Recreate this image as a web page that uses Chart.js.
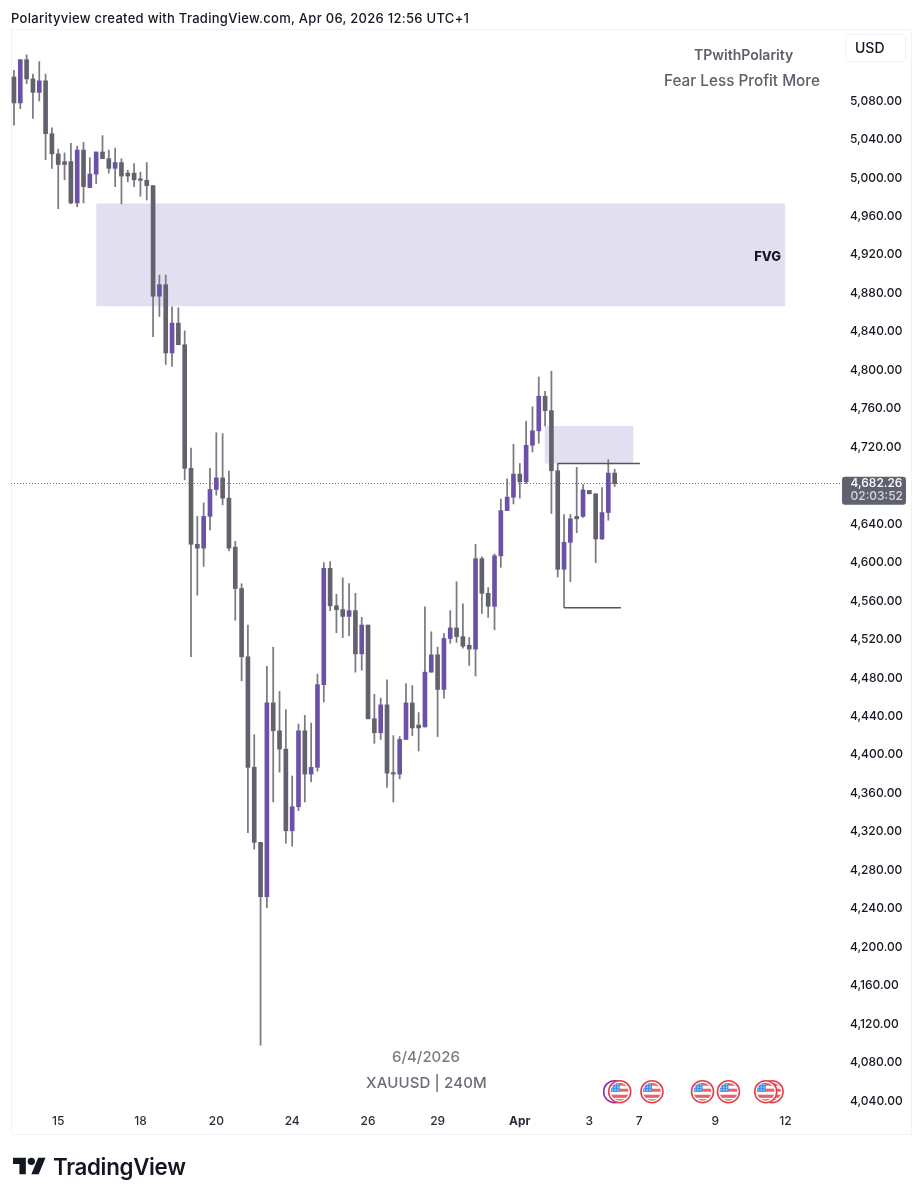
<!DOCTYPE html>
<html><head><meta charset="utf-8">
<script src="https://cdn.jsdelivr.net/npm/chart.js@4"></script>
<style>
html,body{margin:0;padding:0;background:#fff;width:922px;height:1200px;overflow:hidden;font-family:Inter,sans-serif}
#c{position:absolute;left:0;top:0}
.t{position:absolute;white-space:nowrap;line-height:1}
#frame{position:absolute;left:11px;top:29px;width:899px;height:1104px;border:1px solid #f2f3f6;box-sizing:content-box}
#usd{position:absolute;left:845px;top:34px;width:61px;height:28px;border:1px solid #f0f1f4;border-radius:5px;box-sizing:border-box}
</style></head><body>
<div id="frame"></div>
<canvas id="c" width="922" height="1200"></canvas>
<div class="t" style="left:11px;top:12px;font-size:13px;font-weight:500;color:#131722;letter-spacing:.285px">Polarityview created with TradingView.com, Apr 06, 2026 12:56 UTC+1</div>
<div class="t" style="left:694px;top:48px;font-size:14px;font-weight:600;color:#5d606b">TPwithPolarity</div>
<div class="t" style="left:664px;top:72.5px;font-size:15.3px;font-weight:500;color:#5d606b">Fear Less Profit More</div>
<div id="usd"></div>
<div class="t" style="left:855px;top:41px;font-size:14px;font-weight:500;color:#131722">USD</div>
<div class="t" style="left:392px;top:1049px;font-size:15px;font-weight:500;color:#7a7d87">6/4/2026</div>
<div class="t" style="left:366px;top:1075px;font-size:15px;font-weight:500;color:#6b6e78;letter-spacing:.15px">XAUUSD | 240M</div>
<svg style="position:absolute;left:13px;top:1154px" width="33" height="25.7" viewBox="0 0 36 28"><path fill="#131722" d="M14 22H7V11H0V4h14v18zM28 22h-8l7.5-18h8L28 22z"/><circle fill="#131722" cx="20" cy="8" r="4"/></svg>
<div class="t" style="left:53px;top:1156px;font-size:22.3px;font-weight:600;color:#131722;letter-spacing:-.3px">TradingView</div>
<script>
const opens=[5105,5078,5123,5103,5089,5101,5046,5025,5017,5017,4974,5029,4990,5004,5027,5020,5010,5016,5005,5005,4998.5,4997.5,4992,4877,4889,4818,4849,4826.5,4698,4619,4615,4648,4676,4688,4667,4616,4573,4502,4387,4309,4252.5,4454,4425,4406,4321,4346,4425,4380,4387,4473,4594,4555,4551,4544,4550,4505,4535,4437.5,4423,4452,4381,4380,4416,4454,4431,4429,4486,4504,4468,4521,4532,4523,4514,4510,4604,4568,4554.5,4607,4654,4668,4692,4684,4722,4737,4773,4758,4695.5,4593,4621,4648,4648,4675,4671.5,4624.5,4652,4693];
const highs=[5112,5123,5128,5108,5121,5108,5052,5030,5026,5036,5033,5037,5021,5027,5044,5029,5031,5020,5008,5015,5006,5016,4992,4899,4899,4866,4865,4841,4719,4648,4662,4698,4735,4734,4695,4622,4578,4535,4421,4309,4492,4512,4466,4447,4378,4432,4441,4433,4484,4600,4601,4567,4584,4578,4568,4543,4535,4463,4459,4478,4420,4419,4474,4472,4444,4554,4528,4512,4526,4550,4580,4557,4522,4619,4606,4574,4609,4666,4687,4723,4703,4747,4762,4793,4778,4799,4703,4650,4650,4699,4681,4675,4671.5,4678,4707,4697];
const lows=[5055,5072,5098,5062,5080,5019,5010,4968,4998,4973,4970,4974,4990,4994,5020,5005,4991,4973,4996,4991,4981,4977,4835,4856,4806,4804,4826.5,4686,4502,4566,4596,4634,4670,4660,4612,4540,4477,4319,4302,4098,4241,4351,4382,4308,4305,4342,4351,4372,4383,4455,4550,4527,4522,4524,4486,4488,4437.5,4412,4416,4366,4351,4375,4416,4420,4404,4429,4486,4419,4459,4516,4517,4511,4493,4482,4547,4543,4530,4595,4654,4661,4667,4682,4715,4724,4742,4651,4585,4553,4580,4631,4647,4671.5,4600,4624,4644,4679];
const closes=[5078,5123,5103,5089,5101,5046,5025,5014,5014,4974,5029,4991,5004,5027,5020,5010,5016,5002,5002,4998,4997.5,4992,4877,4889,4818,4849,4826.5,4698,4619,4615,4648,4676,4688,4667,4615,4573,4502,4387,4309,4252.5,4454,4425,4406,4321,4346,4425,4380,4387,4473,4594,4555,4551,4544,4550,4505,4535,4437.5,4423,4452,4381,4380,4416,4454,4428,4428,4486,4504,4468,4521,4532,4523,4513,4510,4604,4568,4554.5,4607,4654,4668,4692,4684,4722,4737,4773,4758,4695.5,4593,4621,4645.5,4645.5,4675.5,4671.5,4624.5,4652,4693,4682];
const barIndex=[0,1,2,3,4,5,6,7,8,9,10,11,12,13,14,15,16,17,18,19,20,21,22,23,24,25,26,27,28,29,30,31,32,33,34,35,36,37,38,39,40,41,42,43,44,45,46,47,48,49,50,51,52,53,54,55,56,57,58,59,60,61,62,63,64,65,66,67,68,69,70,71,72,73,74,75,76,77,78,79,80,81,82,83,84,85,86,87,88,89,90,91,92,93,94,95];
// candles that closed up are drawn purple, others grey
const bullish=[0,1,0,0,1,0,0,0,0,0,1,0,1,1,0,0,1,0,0,0,0,0,0,1,0,1,0,0,0,0,1,1,1,0,0,0,0,0,0,0,1,0,0,0,1,1,0,1,1,1,0,0,0,1,0,1,0,0,1,0,0,1,1,0,0,1,1,0,1,1,0,0,0,1,0,0,1,1,1,1,0,1,1,1,0,0,0,1,1,0,1,0,0,1,1,0];
const yTickValues=[5080,5040,5000,4960,4920,4880,4840,4800,4760,4720,4640,4600,4560,4520,4480,4440,4400,4360,4320,4280,4240,4200,4160,4120,4080,4040];
const xTickIndex=[7,20,32,44,56,67,80,91,98.9,110.9,122];
const xTickLabels=['15','18','20','24','26','29','Apr','3','7','9','12'];
const fvgIndex=[13,122];const fvgTop=4973.5;const fvgBottom=4866.5;
const zone2Index=[83.9,98];const zone2Top=4742;const zone2Bottom=4703;
const rangeHighIndex=[86,99];const rangeHigh=4703;
const rangeLowIndex=[87,96];const rangeLow=4553;
const lastPrice=4682.26;const lastPriceText='4,682.26';const countdownText='02:03:52';
const flagIndex=[119.9,118.9,113,108.9,100.9,95.8];const purpleIndex=[95];
const xMin=-0.47,xMax=130.8,yMin=4034.8,yMax=5154.9;

const BULL='#6b52a6',BEAR='#62626d',WICK='#7b7b83',ZONE='#e2e0f0',INK='#131722';
const seg=(xs,y)=>xs.map(x=>({x,y}));
const lineDs=(data,color,o={})=>Object.assign({type:'line',data,borderColor:color,borderWidth:1.3,pointRadius:0,tension:0,fill:false},o);
const datasets=[
 lineDs(seg(fvgIndex,fvgTop),ZONE,{borderWidth:0,backgroundColor:ZONE,fill:'+1',order:10}),
 lineDs(seg(fvgIndex,fvgBottom),ZONE,{borderWidth:0,order:10}),
 lineDs(seg(zone2Index,zone2Top),ZONE,{borderWidth:0,backgroundColor:ZONE,fill:'+1',order:10}),
 lineDs(seg(zone2Index,zone2Bottom),ZONE,{borderWidth:0,order:10}),
 {type:'bar',data:barIndex.map((x,i)=>({x,y:[lows[i],highs[i]]})),backgroundColor:barIndex.map(()=>WICK),barThickness:1.1,grouped:false,order:5},
 {type:'bar',data:barIndex.map((x,i)=>({x,y:[opens[i],closes[i]]})),backgroundColor:barIndex.map((x,i)=>bullish[i]?BULL:BEAR),barThickness:4,minBarLength:1.5,grouped:false,order:4},
 lineDs(seg(rangeHighIndex,rangeHigh),'#55555f',{order:3}),
 lineDs(seg(rangeLowIndex,rangeLow),'#55555f',{order:3}),
 lineDs(seg([xMin,xMax],lastPrice),'#6d6f7a',{borderWidth:1,borderDash:[1,2],order:2})
];
function drawFlag(ctx,x,y){
 const r=12;ctx.save();
 ctx.beginPath();ctx.arc(x,y,r-1,0,Math.PI*2);ctx.fillStyle='#fff';ctx.fill();
 ctx.strokeStyle='#e5404a';ctx.lineWidth=1.6;ctx.stroke();
 ctx.beginPath();ctx.arc(x,y,r-3,0,Math.PI*2);ctx.clip();
 ctx.fillStyle='#e8636a';
 ctx.fillRect(x-9,y-9,18,3);ctx.fillRect(x-9,y-3,18,3);ctx.fillRect(x-9,y+3,18,3.2);ctx.fillRect(x-9,y+7.5,18,2);
 ctx.fillStyle='#3f93e8';ctx.fillRect(x-9.5,y-9.5,9.5,9.5);
 ctx.fillStyle='#d5e8fb';
 for(let a=0;a<3;a++)for(let b=0;b<3;b++)ctx.fillRect(x-8+a*2.8,y-8+b*2.8,1.2,1.2);
 ctx.restore();
}
const overlay={id:'overlay',afterDatasetsDraw(chart){
 const ctx=chart.ctx,xs=chart.scales.x,ys=chart.scales.y;
 ctx.save();
 ctx.font='800 13px Inter';ctx.fillStyle=INK;ctx.textAlign='right';ctx.textBaseline='middle';
 ctx.fillText('FVG',781,ys.getPixelForValue((fvgTop+fvgBottom)/2)+2);
 const fy=1091.7;
 purpleIndex.forEach(i=>{ctx.beginPath();ctx.arc(xs.getPixelForValue(i),fy,11,0,Math.PI*2);ctx.strokeStyle='#8e2bb5';ctx.lineWidth=1.6;ctx.stroke();});
 flagIndex.forEach(i=>drawFlag(ctx,xs.getPixelForValue(i),fy));
 const py=ys.getPixelForValue(lastPrice);
 ctx.beginPath();ctx.roundRect(842,py-6.8,64,28,3);ctx.fillStyle='#5f616e';ctx.fill();
 ctx.textAlign='left';ctx.font='500 12px Inter';ctx.fillStyle='#ffffff';ctx.fillText(lastPriceText,850.5,py+0.2);
 ctx.fillStyle='#d6d7de';ctx.fillText(countdownText,850.5,py+13);
 ctx.restore();
}};
new Chart(document.getElementById('c'),{
 type:'bar',
 data:{datasets},
 plugins:[overlay],
 options:{
  responsive:false,animation:false,devicePixelRatio:1,
  layout:{padding:{left:11,top:29,right:11,bottom:66}},
  plugins:{legend:{display:false},tooltip:{enabled:false},title:{display:false}},
  scales:{
   x:{type:'linear',min:xMin,max:xMax,offset:false,grid:{display:false},border:{display:false},
    afterBuildTicks(a){a.ticks=xTickIndex.map(value=>({value}));},
    afterFit(a){a.height=28;},
    ticks:{autoSkip:false,maxRotation:0,padding:0,color:'#2a2e39',
     font:c=>({family:'Inter',size:12,weight:xTickLabels[c.index]==='Apr'?'700':'500'}),
     callback:(v,i)=>xTickLabels[i]}},
   y:{type:'linear',position:'right',min:yMin,max:yMax,grid:{display:false},border:{display:false},
    afterBuildTicks(a){a.ticks=yTickValues.map(value=>({value}));},
    afterFit(a){a.width=70;},
    ticks:{padding:1,color:'#131722',autoSkip:false,font:{family:'Inter',size:12,weight:'500'},
     callback:v=>v.toLocaleString('en-US',{minimumFractionDigits:2,maximumFractionDigits:2})}}
  }
 }
});
</script>
</body></html>
